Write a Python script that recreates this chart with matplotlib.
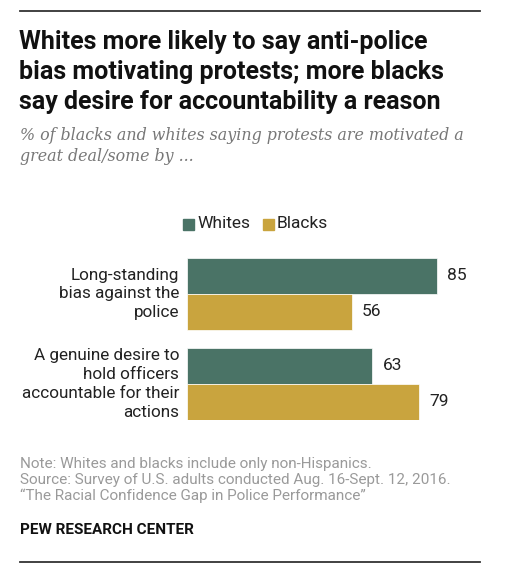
import matplotlib
matplotlib.use("Agg")
import matplotlib.pyplot as plt
import numpy as np

# data
categories = ["Long-standing\nbias against the\npolice",
              "A genuine desire to\nhold officers\naccountable for their\nactions"]
whites = [85, 63]
blacks = [56, 79]
series_names = ["Whites", "Blacks"]
colors = ["#4a7366", "#c9a43e"]

W, H = 514, 583
fig = plt.figure(figsize=(W / 100, H / 100), dpi=100)

def fx(x):
    return x / W

def fy(y):
    return 1 - y / H

# top/bottom rules
for yy in (11, 562):
    fig.add_artist(plt.Line2D([fx(20), fx(480)], [fy(yy), fy(yy)], color="#333333", lw=1.3))

title = ("Whites more likely to say anti-police\n"
         "bias motivating protests; more blacks\n"
         "say desire for accountability a reason")
fig.text(fx(19), fy(72), title, fontsize=18, fontweight="bold", family="Roboto",
         va="center", ha="left", linespacing=1.3, color="#111111")

subtitle = ("% of blacks and whites saying protests are motivated a\n"
            "great deal/some by ...")
fig.text(fx(20), fy(146), subtitle, fontsize=11.4, style="italic", family="DejaVu Serif",
         va="center", ha="left", linespacing=1.28, color="#777777")

# bars
ax = fig.add_axes([fx(187), fy(420), 294 / W, 162 / H])
bh = 0.4
for i in range(len(categories)):
    vals = [whites[i], blacks[i]]
    for j, v in enumerate(vals):
        yc = i + j * bh + bh / 2
        ax.barh(yc, v, height=bh, color=colors[j], edgecolor="white", linewidth=0.5)
        ax.text(v + 3.5, yc, str(v), va="center", ha="left", fontsize=12.5,
                family="Roboto", color="#222222")
    ax.text(-2.7, i + bh, categories[i], va="center", ha="right", fontsize=12.3,
            family="Roboto", color="#222222", linespacing=1.32)
ax.set_xlim(0, 100)
ax.set_ylim(1.8, 0)
ax.axis("off")

# legend
lx = [183, 263]
for k, name in enumerate(series_names):
    fig.add_artist(plt.Rectangle((fx(lx[k]), fy(230)), 11 / W, 11 / H,
                                 color=colors[k], transform=fig.transFigure))
    fig.text(fx(lx[k] + 14), fy(224), name, fontsize=12.5, family="Roboto",
             va="center", ha="left", color="#222222")

note = ("Note: Whites and blacks include only non-Hispanics.\n"
        "Source: Survey of U.S. adults conducted Aug. 16-Sept. 12, 2016.\n"
        "\u201cThe Racial Confidence Gap in Police Performance\u201d")
fig.text(fx(20), fy(480), note, fontsize=11, family="Roboto", va="center", ha="left",
         color="#9a9a9a", linespacing=1.15)
fig.text(fx(20), fy(530), "PEW RESEARCH CENTER", fontsize=11, fontweight="bold",
         family="Roboto", va="center", ha="left", color="#111111")

fig.savefig("out.png", dpi=100, facecolor="white")
